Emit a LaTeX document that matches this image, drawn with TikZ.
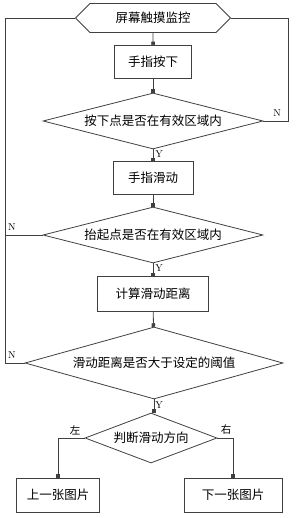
\documentclass[tikz,border=0pt]{standalone}
\usepackage{fontspec}
\newfontfamily\cjk{Noto Sans CJK SC}
\usetikzlibrary{shapes.geometric,shapes.symbols,arrows.meta}

\tikzset{
  flowline/.style={draw=black!75,line width=0.8pt},
  flowarrow/.style={flowline,-{Square[length=3.5pt,width=3.5pt]}},
  flowbox/.style={flowline,rectangle,inner sep=0pt,font=\cjk\fontsize{12.5}{14}\selectfont},
  flowdiamond/.style={flowline,diamond,inner sep=0pt,font=\cjk\fontsize{12.5}{14}\selectfont},
  flowhex/.style={flowline,signal,signal to=west and east,inner sep=0pt,font=\cjk\fontsize{12.5}{14}\selectfont},
  tag/.style={font=\fontsize{10}{11}\selectfont,inner sep=0pt},
  cjktag/.style={font=\cjk\fontsize{10.5}{11}\selectfont,inner sep=0pt}
}

\begin{document}
\begin{tikzpicture}[x=1pt,y=-1pt]
  \useasboundingbox (0,0) rectangle (297,518);
  % main column
  \node[flowhex,minimum width=155pt,minimum height=29pt] (watch) at (153,18) {屏幕触摸监控};
  \node[flowbox,minimum width=77pt,minimum height=33pt] (press) at (153,62) {手指按下};
  \node[flowdiamond,aspect=3.93,minimum width=220pt,minimum height=56pt] (inpress) at (153,121) {按下点是否在有效区域内};
  \node[flowbox,minimum width=80pt,minimum height=33pt] (slide) at (153,178) {手指滑动};
  \node[flowdiamond,aspect=3.93,minimum width=220pt,minimum height=56pt] (inlift) at (153,235) {抬起点是否在有效区域内};
  \node[flowbox,minimum width=111pt,minimum height=35pt] (dist) at (153,294) {计算滑动距离};
  \node[flowdiamond,aspect=3.58,minimum width=258pt,minimum height=72pt] (thresh) at (154,363) {滑动距离是否大于设定的阈值};
  \node[flowdiamond,aspect=2.64,minimum width=132pt,minimum height=50pt] (dir) at (151,438) {判断滑动方向};
  \node[flowbox,minimum width=83pt,minimum height=34pt] (prev) at (58,495) {上一张图片};
  \node[flowbox,minimum width=98pt,minimum height=34pt] (next) at (233,495) {下一张图片};
  % return corners
  \coordinate (rback) at (288,18);
  \coordinate (lback) at (5,18);

  \draw[flowarrow] (watch) -- (press);
  \draw[flowarrow] (press) -- (inpress);
  \draw[flowarrow] (inpress) -- (slide);
  \draw[flowarrow] (slide) -- (inlift);
  \draw[flowarrow] (inlift) -- (dist);
  \draw[flowarrow] (dist) -- (thresh);
  \draw[flowarrow] (thresh.south) -- (thresh.south |- dir.north);
  \draw[flowarrow] (dir.west) -| (prev.north);
  \draw[flowarrow] (dir.east) -| (next.north);
  \draw[flowline] (inpress.east) -| (rback) -- (watch.east);
  \draw[flowline] (thresh.west) -| (lback) -- (watch.west);
  \draw[flowline] (inlift.west) -- (inlift.west -| lback);

  \node[tag] (n1) at (277,113) {N};
  \node[tag] (n2) at (12,227) {N};
  \node[tag] (n3) at (12,355) {N};
  \node[tag] (y1) at (159,154) {Y};
  \node[tag] (y2) at (159,268) {Y};
  \node[tag] (y3) at (159,405) {Y};
  \node[cjktag] (left) at (75,430) {左};
  \node[cjktag] (right) at (226,430) {右};
\end{tikzpicture}
\end{document}
